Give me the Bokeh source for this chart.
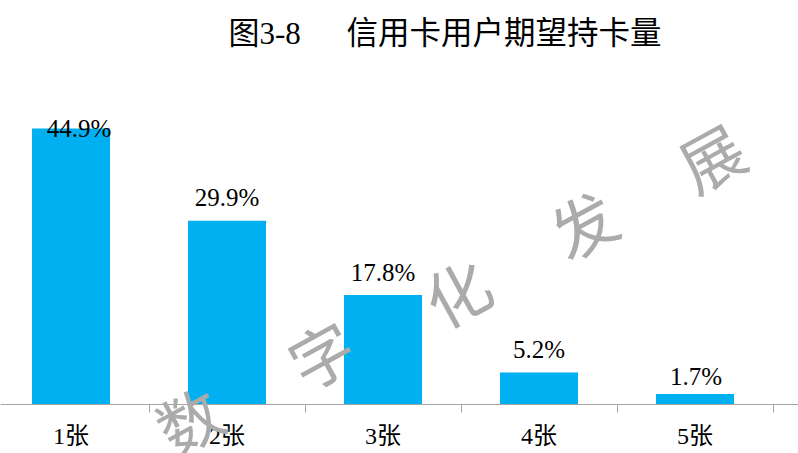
from bokeh.plotting import figure
from bokeh.models import Range1d, FixedTicker, Label, ColumnDataSource
from bokeh.core.properties import value
from bokeh.embed import file_html
from bokeh.resources import INLINE

# ---- data ----
categories = ["1张", "2张", "3张", "4张", "5张"]
values = [44.9, 29.9, 17.8, 5.2, 1.7]
value_labels = ["44.9%", "29.9%", "17.8%", "5.2%", "1.7%"]
title_num = "图3-8"
title_text = "信用卡用户期望持卡量"
watermark = ["数", "字", "化", "发", "展"]

# ---- styles / layout ----
W, H = 798, 453
AXIS_PY = 404.0         # pixel row of the category axis
CAT_PX = 156.0          # pixel width of one category
LEFT_PAD = 7.5          # category-0 left edge lies this many px left of the frame
PX_PER_UNIT = 6.147
x_start = LEFT_PAD / CAT_PX
x_end = x_start + W / CAT_PX
y_start = -(H - AXIS_PY) / PX_PER_UNIT
y_end = AXIS_PY / PX_PER_UNIT

FONT = "'Liberation Serif', 'Noto Sans CJK SC', serif"
BAR_COLOR = "#00B0F0"
AXIS_COLOR = "#A6A6A6"

def px_to_x(px):
    return x_start + px / CAT_PX

def py_to_y(py):
    return (AXIS_PY - py) / PX_PER_UNIT

p = figure(width=W, height=H, output_backend="svg", toolbar_location=None,
           x_range=Range1d(x_start, x_end), y_range=Range1d(y_start, y_end),
           min_border=0, outline_line_color=None,
           background_fill_color="white", border_fill_color="white")
p.title = None
p.grid.visible = False
p.yaxis.visible = False

xs = [i + 0.5 for i in range(len(categories))]
src = ColumnDataSource(dict(x=xs, top=values, lab=value_labels,
                            xo=[8, 0, 0, 0, 1], yo=[0, -23, -23, -23, -18]))
p.vbar(x="x", top="top", bottom=0, width=0.5, source=src,
       fill_color=BAR_COLOR, line_color=None)
p.text(x="x", y="top", text="lab", source=src, x_offset="xo", y_offset="yo",
       text_align="center", text_baseline="alphabetic",
       text_font=value(FONT), text_font_size="25px", text_color="#000000")

ax = p.xaxis[0]
ax.fixed_location = 0
ax.ticker = FixedTicker(ticks=xs, minor_ticks=[i + 1 for i in range(len(categories))])
ax.major_label_overrides = {x: c for x, c in zip(xs, categories)}
ax.axis_line_color = AXIS_COLOR
ax.axis_line_width = 1.2
ax.major_tick_line_color = None
ax.major_tick_out = 0
ax.major_tick_in = 0
ax.minor_tick_line_color = AXIS_COLOR
ax.minor_tick_out = 8
ax.minor_tick_in = 0
ax.major_label_standoff = 10
ax.major_label_text_font = FONT
ax.major_label_text_font_size = "24px"
ax.major_label_text_color = "#000000"

# title
p.add_layout(Label(x=px_to_x(228), y=py_to_y(33), text=title_num,
                   text_font=FONT, text_font_size="31px", text_align="left",
                   text_baseline="middle", text_color="#000000"))
p.add_layout(Label(x=px_to_x(346), y=py_to_y(33), text=title_text,
                   text_font=FONT, text_font_size="31.5px", text_align="left",
                   text_baseline="middle", text_color="#000000"))

# watermark
wm_pos = [(188, 418), (320, 352), (456, 290), (582, 222), (710, 155)]
for ch, (px, py) in zip(watermark, wm_pos):
    p.add_layout(Label(x=px_to_x(px), y=py_to_y(py), text=ch,
                       text_font="Noto Sans CJK SC", text_font_size="64px",
                       text_align="center", text_baseline="middle",
                       angle=0.5, text_color="#ABABAB"))

open("out.html", "w").write(file_html(p, INLINE))
